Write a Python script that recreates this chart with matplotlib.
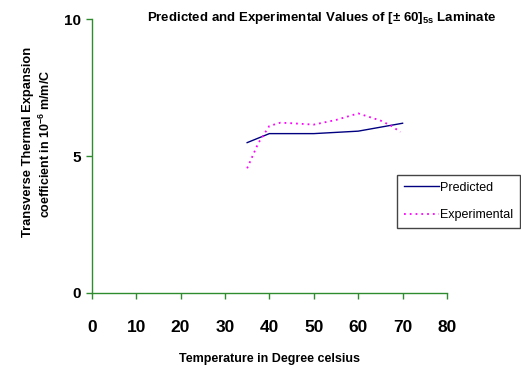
import matplotlib
matplotlib.use("Agg")
import matplotlib.pyplot as plt

# Data
temp_pred = [35, 40, 50, 60, 70]
cte_pred = [5.49, 5.82, 5.82, 5.91, 6.2]

temp_exp = [35, 37.5, 40, 42.5, 45, 50, 55, 60, 65, 67.5, 69.5]
cte_exp = [4.55, 5.47, 6.1, 6.22, 6.2, 6.15, 6.32, 6.56, 6.3, 6.1, 5.88]

x_ticks = [0, 10, 20, 30, 40, 50, 60, 70, 80]
y_ticks = [0, 5, 10]

plt.rcParams['font.family'] = ['Liberation Sans', 'DejaVu Sans']
plt.rcParams['mathtext.fontset'] = 'custom'
plt.rcParams['mathtext.rm'] = 'Liberation Sans:bold'
plt.rcParams['mathtext.it'] = 'Liberation Sans:bold'
plt.rcParams['mathtext.bf'] = 'Liberation Sans:bold'

fig = plt.figure(figsize=(5.21, 3.65), dpi=100)
ax = fig.add_axes([0.176, 0.1986, 0.682, 0.748])

ax.plot(temp_pred, cte_pred, color='#000080', lw=1.0, label='Predicted')
ax.plot(temp_exp, cte_exp, color='#FF00FF', lw=1.3, ls=(0, (1, 2.2)),
        label='Experimental')

ax.set_xlim(0, 80)
ax.set_ylim(0, 10)
ax.set_xticks(x_ticks)
ax.set_yticks(y_ticks)

# Axes styling
green = '#2E8B2E'
for s in ['top', 'right']:
    ax.spines[s].set_visible(False)
for s in ['left', 'bottom']:
    ax.spines[s].set_color(green)
    ax.spines[s].set_linewidth(1.0)
ax.tick_params(axis='both', colors=green, length=4, width=1.0)
ax.tick_params(axis='x', pad=16, labelsize=12.5, labelcolor='black')
ax.tick_params(axis='y', pad=4, labelsize=11, labelcolor='black')
for lab in ax.get_xticklabels() + ax.get_yticklabels():
    lab.set_fontweight('bold')

ax.set_xlabel('Temperature in Degree celsius', fontsize=9, fontweight='bold',
              labelpad=13)
fig.text(0.054, 0.61, 'Transverse Thermal Expansion', rotation=90,
         fontsize=9.3, fontweight='bold', ha='center', va='center')
fig.text(0.088, 0.605, r'coefficient in 10$^{-6}$ m/m/C', rotation=90,
         fontsize=9, fontweight='bold', ha='center', va='center')

fig.text(0.618, 0.95, r'Predicted and Experimental Values of [± 60]$_{\mathrm{5s}}$ Laminate',
         fontsize=9.5, fontweight='bold', ha='center', va='center')

leg = ax.legend(loc='upper left', bbox_to_anchor=(397 / 521, 1 - 175 / 365),
                bbox_transform=fig.transFigure, borderaxespad=0,
                fancybox=False, edgecolor='#444444', fontsize=9,
                handlelength=2.8, handletextpad=0.1, labelspacing=1.25,
                borderpad=0.55, framealpha=1)
leg.get_frame().set_linewidth(1.0)

fig.savefig('out.png', dpi=100)
